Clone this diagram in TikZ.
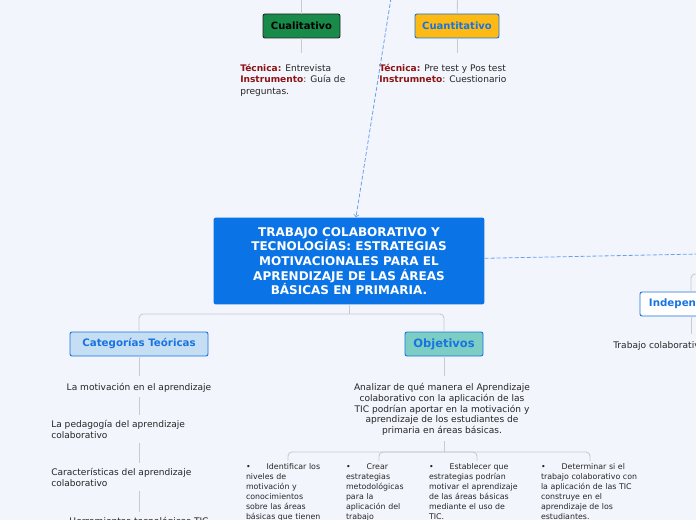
\documentclass[tikz,border=0pt]{standalone}
\usepackage{fontspec}
\setmainfont{DejaVu Sans}
\definecolor{bgpaper}{HTML}{F3F5FD}
\definecolor{mainblue}{HTML}{0A73E6}
\definecolor{textblue}{HTML}{1874E0}
\definecolor{linegray}{HTML}{C8CACF}
\definecolor{dashblue}{HTML}{6AA0EA}
\definecolor{darkred}{HTML}{8E1414}
\definecolor{leafgreen}{HTML}{188A4A}
\definecolor{amber}{HTML}{FEBA14}
\definecolor{paleblue}{HTML}{C5DEF3}
\definecolor{teal}{HTML}{7CCDC3}
\definecolor{inkdark}{HTML}{262626}
\newcommand{\redlbl}[1]{\textcolor{darkred}{\bfseries #1}}
\begin{document}
\begin{tikzpicture}[
  x=0.75pt, y=-0.75pt,
  box/.style={rounded corners=1.5pt, line width=0.7pt, inner sep=0pt, minimum height=18pt, font=\bfseries\fontsize{7.5}{9}\selectfont},
  note/.style={inner sep=0pt, align=left, text=inkdark, font=\fontsize{6.8}{8.6}\selectfont},
  goal/.style={inner sep=0pt, align=left, anchor=north, text=inkdark, font=\fontsize{5.9}{7.6}\selectfont},
  link/.style={draw=linegray, line width=0.65pt},
  trunk/.style={link, shorten <=3pt, shorten >=4pt},
  dlink/.style={draw=dashblue, line width=0.6pt, dash pattern=on 3pt off 1.5pt}
]
\useasboundingbox (0,0) rectangle (696,520);
\clip (0,0) rectangle (696,520);
\fill[bgpaper] (0,0) rectangle (696,520);

\node[fill=mainblue, rounded corners=1.5pt, minimum width=203pt, minimum height=65pt, inner sep=0pt, text=white, align=center, font=\bfseries\fontsize{9}{11}\selectfont] (main) at (349,261) {TRABAJO COLABORATIVO Y\\TECNOLOGÍAS: ESTRATEGIAS\\MOTIVACIONALES PARA EL\\APRENDIZAJE DE LAS ÁREAS\\ BÁSICAS EN PRIMARIA.};

\node[box, fill=leafgreen, draw=inkdark, text=black, minimum width=57.75pt] (cual) at (301.5,26) {Cualitativo};
\node[box, fill=amber, draw=textblue, text=textblue, minimum width=63pt] (cuan) at (457,26) {Cuantitativo};
\node[note, anchor=north west] (pcual) at (240,64) {\redlbl{Técnica:} Entrevista\\\redlbl{Instrumento}: Guía de\\preguntas.};
\node[note, anchor=north west] (pcuan) at (379,64) {\redlbl{Técnica:} Pre test y Pos test\\\redlbl{Instrumneto}: Cuestionario};

\node[box, fill=paleblue, draw=textblue, text=textblue, minimum width=103.5pt, font=\bfseries\fontsize{7.7}{9}\selectfont] (cat) at (139,344) {Categorías Teóricas};
\node[box, fill=teal, draw=textblue, text=textblue, minimum width=58.5pt, font=\bfseries\fontsize{8.6}{10}\selectfont] (obj) at (444,344) {Objetivos};
\node[box, fill=white, draw=textblue, text=textblue, minimum width=76.5pt, font=\bfseries\fontsize{7.7}{9}\selectfont] (ind) at (691,304) {Independiente};

\node[note, anchor=north] (c1) at (139,383) {La motivación en el aprendizaje};
\node[note, anchor=north west] (c2) at (51,420) {La pedagogía del aprendizaje\\colaborativo};
\node[note, anchor=north west] (c3) at (51,468) {Características del aprendizaje\\colaborativo};
\node[note, anchor=north] (c4) at (139,517) {Herramientas tecnológicas TIC};

\node[note, anchor=north, align=center, font=\fontsize{6.8}{8.1}\selectfont] (o0) at (442,383) {Analizar de qué manera el Aprendizaje\\colaborativo con la aplicación de las\\TIC podrían aportar en la motivación y\\aprendizaje de los estudiantes de\\primaria en áreas básicas.};
\node[goal, text width=63pt] (o1) at (288,463) {•\hspace{12pt}Identificar los\\niveles de\\motivación y\\conocimientos\\sobre las áreas\\básicas que tienen\\los estudiantes};
\node[goal, text width=49.5pt] (o2) at (379,463) {•\hspace{12pt}Crear\\estrategias\\metodológicas\\para la\\aplicación del\\trabajo\\colaborativo};
\node[goal, text width=72pt] (o3) at (477,463) {•\hspace{12pt}Establecer que\\estrategias podrían\\motivar el aprendizaje\\de las áreas básicas\\mediante el uso de\\TIC.};
\node[goal, text width=73.5pt] (o4) at (590,463) {•\hspace{12pt}Determinar si el\\trabajo colaborativo con\\la aplicación de las TIC\\construye en el\\aprendizaje de los\\estudiantes.};

\node[note, anchor=north west] (i1) at (613,341) {Trabajo colaborativo};

\coordinate (up1) at (301.5,-2);
\coordinate (up2) at (457.5,-2);
\coordinate (dtop) at (391,-2);
\coordinate (dright) at (700,254);
\coordinate (rt) at (700,274);
\coordinate (mb) at (349,314);
\coordinate (ob) at (444,452);

\draw[link] (up1) -- (cual);
\draw[link] (up2) -- (cuan);
\draw[link, shorten >=8pt] (cual) -- (cual |- pcual.north);
\draw[link, shorten >=8pt] (cuan) -- (cuan |- pcuan.north);
\draw[dlink, ->] (dtop) -- (main);
\draw[dlink] (main) -- (dright);

\draw[link] (main) -- (mb);
\draw[link, rounded corners=3pt] (mb) -| (cat);
\draw[link, rounded corners=3pt] (mb) -| (obj);

\draw[link, shorten >=5pt] (cat) -- (cat |- c1.north);
\draw[trunk] (c1) -- (cat |- c2.north);
\draw[trunk] (c2.south -| cat) -- (cat |- c3.north);
\draw[trunk] (c3.south -| cat) -- (cat |- c4.north);

\draw[link, shorten >=5pt] (obj) -- (obj |- o0.north);
\draw[link, shorten <=4pt] (o0.south -| ob) -- (ob);
\foreach \k in {1,...,4}
  \draw[link, rounded corners=3pt] (ob) -| ([yshift=1.5pt]o\k.north);

\draw[link, rounded corners=3pt] (rt) -| (ind);
\draw[link, shorten >=5pt] (ind) -- (ind |- i1.north);
\end{tikzpicture}
\end{document}
